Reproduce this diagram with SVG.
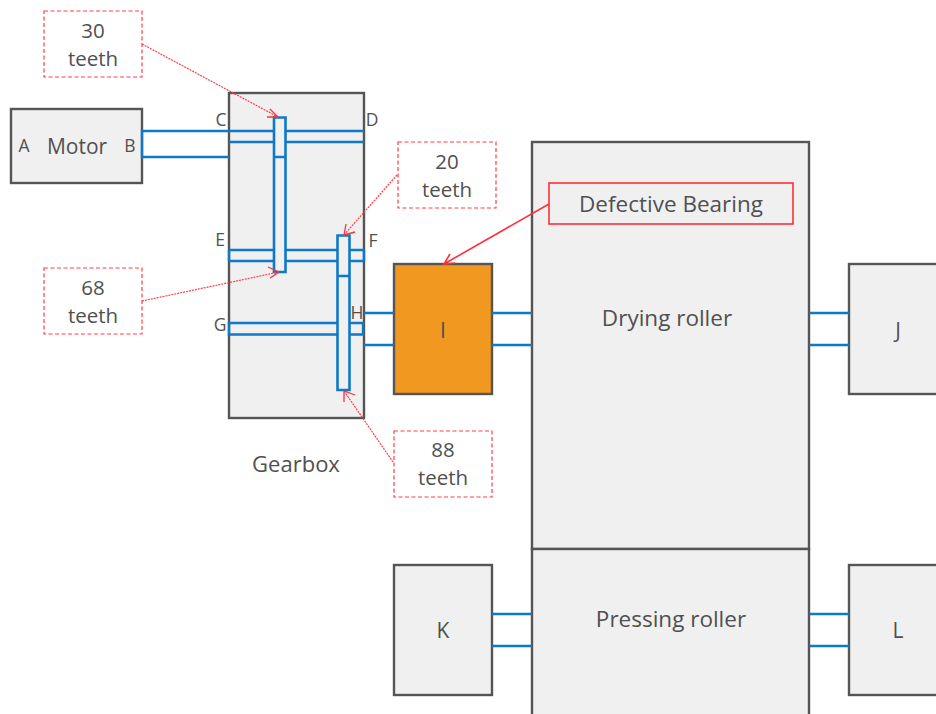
<svg xmlns="http://www.w3.org/2000/svg" width="936" height="714" viewBox="0 0 936 714">
<style>
text{font-family:"Open Sans","Noto Sans","Liberation Sans",sans-serif;fill:#505050;text-anchor:middle}
.b{fill:#f0f0f0;stroke:#555;stroke-width:2.4}
.o{fill:#f09820;stroke:#555;stroke-width:2.4}
.s{stroke:#0f78c8;stroke-width:2.4;fill:none}
.g{fill:#f0f0f0;stroke:#0f78c8;stroke-width:2.6}
.d{fill:none;stroke:#ff3f48;stroke-width:1.2;stroke-dasharray:4 2.5}
.l{fill:none;stroke:#ff3f48;stroke-width:1.2;stroke-dasharray:2 1}
.h{fill:none;stroke:#ff3038;stroke-width:1.3}
.t20{font-size:20.500px}.t21{font-size:21px}.t22{font-size:22px}.t225{font-size:22.500px}.t18{font-size:17.500px}
</style>
<g id="drying-roller"><rect class="b" x="532" y="142" width="277" height="407"/><text class="t225" x="667" y="326">Drying roller</text></g>
<g id="pressing-roller"><rect class="b" x="532" y="549" width="277" height="175"/><text class="t225" x="671" y="627">Pressing roller</text></g>
<g id="motor"><rect class="b" x="11" y="109" width="131" height="74"/><text class="t18" x="24" y="152">A</text><text class="t21" x="77" y="154">Motor</text><text class="t18" x="130" y="152">B</text></g>
<g id="gearbox"><rect class="b" x="229" y="93" width="135" height="325"/><text class="t22" x="296" y="472">Gearbox</text>
<text class="t18" x="221" y="126">C</text><text class="t18" x="372" y="126">D</text><text class="t18" x="220" y="246">E</text><text class="t18" x="373" y="247">F</text><text class="t18" x="220" y="331">G</text><text class="t18" x="357" y="319">H</text></g>
<g id="bearing-i"><rect class="o" x="394" y="264" width="98" height="130"/><text class="t21" x="443" y="338">I</text></g>
<g id="j"><rect class="b" x="849" y="264" width="98" height="130"/><text class="t21" x="898" y="338">J</text></g>
<g id="k"><rect class="b" x="394" y="565" width="98" height="130"/><text class="t21" x="443" y="638">K</text></g>
<g id="l"><rect class="b" x="849" y="565" width="98" height="130"/><text class="t21" x="898" y="638">L</text></g>
<g id="connectors">
<path class="s" d="M229 131H142V157H229M229 131H364M229 142H364M229 250H364M229 261H364M364 250V261M229 250V261M229 323H363V334.500H229ZM364 313H394M364 345H394M492 313H532M492 345H532M809 313H849M809 345H849M492 614H532M492 646H532M809 614H849M809 646H849"/>
<path class="g" d="M274 117.500H285.500V272H274ZM274 157H285.500"/>
<path class="g" d="M337.500 235.500H349.500V390H337.500ZM337.500 276H349.500"/>
<path class="l" d="M142 44L278 117M142 301L279 272M397 175L344 235M393 462L344 391"/>
<path class="h" d="M270 109L278 117L267 117M268 267L279 272L270 278M355 232L344 235L346 224M344 402L344 391L355 395"/>
<path d="M549 204L444 264M455 263L444 264L450 254" fill="none" stroke="#ff3038" stroke-width="1.6"/>
</g>
<g id="note-30"><rect class="d" x="44" y="11" width="98" height="66"/><text class="t20" x="93" y="38">30</text><text class="t20" x="93" y="66">teeth</text></g>
<g id="note-68"><rect class="d" x="44" y="268" width="98" height="66"/><text class="t20" x="93" y="295">68</text><text class="t20" x="93" y="323">teeth</text></g>
<g id="note-20"><rect class="d" x="398" y="142" width="98" height="66"/><text class="t20" x="447" y="169">20</text><text class="t20" x="447" y="197">teeth</text></g>
<g id="note-88"><rect class="d" x="394" y="431" width="98" height="66"/><text class="t20" x="443" y="457">88</text><text class="t20" x="443" y="485">teeth</text></g>
<g id="defective-bearing"><rect x="549" y="183" width="244" height="41" fill="#f0f0f0" stroke="#ff3038" stroke-width="1.6"/><text class="t225" x="671" y="212">Defective Bearing</text></g>
</svg>
